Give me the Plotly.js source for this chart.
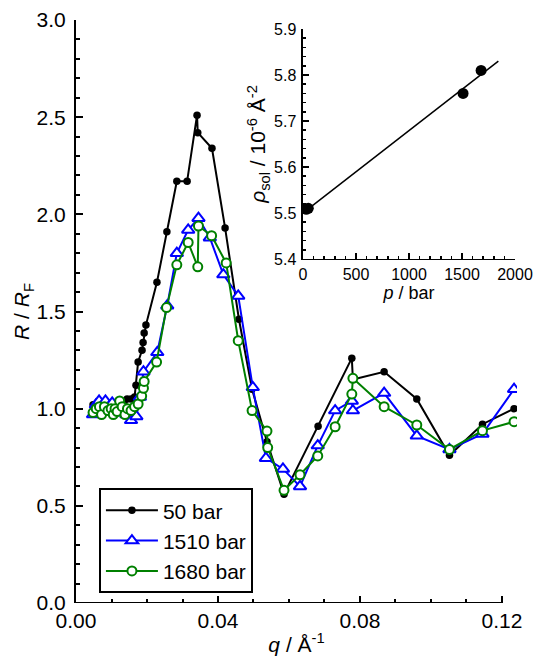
<!DOCTYPE html>
<html>
<head>
<meta charset="utf-8">
<script src="https://cdn.plot.ly/plotly-3.0.1.min.js"></script>
<style>html,body{margin:0;padding:0;background:#fff}#chart{width:536px;height:658px}</style>
</head>
<body>
<div id="chart"></div>
<script>
// Main panel: R/RF vs q
var q50 = [0.0048,0.0060,0.0072,0.0085,0.0098,0.0110,0.0122,0.0135,0.0144,0.0155,0.0165,0.0169,0.0175,0.0186,0.0189,0.0192,0.0197,0.0228,0.0256,0.0284,0.0313,0.0341,0.0343,0.0383,0.0420,0.0459,0.0496,0.0538,0.0586,0.0682,0.0777,0.0780,0.0868,0.0960,0.1052,0.1145,0.1234];
var r50 = [1.02,1.00,1.03,1.01,1.02,1.01,1.03,1.03,1.05,1.05,1.06,1.12,1.24,1.30,1.34,1.39,1.43,1.65,1.91,2.17,2.17,2.51,2.42,2.34,1.93,1.46,1.10,0.83,0.56,0.91,1.26,1.15,1.19,1.05,0.76,0.92,1.00];

var q1510 = [0.0048,0.0056,0.0065,0.0075,0.0083,0.0093,0.0102,0.0112,0.0122,0.0132,0.0142,0.0155,0.0170,0.0180,0.0190,0.0229,0.0257,0.0284,0.0316,0.0345,0.0377,0.0415,0.0457,0.0498,0.0535,0.0583,0.0631,0.0681,0.0730,0.0777,0.0780,0.0868,0.0960,0.1052,0.1145,0.1234];
var r1510 = [0.97,1.02,1.04,1.00,1.04,1.01,1.03,0.99,1.02,1.00,0.97,0.94,0.96,1.06,1.19,1.29,1.53,1.80,1.92,1.98,1.88,1.69,1.58,1.11,0.745,0.69,0.60,0.81,0.99,1.04,0.99,1.08,0.86,0.79,0.87,1.10];

var q1680 = [0.0048,0.0057,0.0066,0.0072,0.0080,0.0090,0.0099,0.0105,0.0110,0.0116,0.0123,0.0130,0.0138,0.0145,0.0155,0.0165,0.0175,0.0185,0.0190,0.0192,0.0227,0.0255,0.0284,0.0316,0.0343,0.0345,0.0382,0.0423,0.0457,0.0496,0.0538,0.0540,0.0586,0.0631,0.0681,0.0730,0.0777,0.0780,0.0868,0.0960,0.1052,0.1145,0.1234];
var r1680 = [0.98,1.00,1.01,0.97,1.01,0.99,1.00,0.97,1.00,0.985,1.04,1.01,0.97,1.00,0.99,1.01,1.024,1.065,1.105,1.14,1.24,1.52,1.74,1.855,1.73,1.94,1.89,1.75,1.35,0.99,0.885,0.80,0.58,0.66,0.757,0.907,1.075,1.156,1.01,0.916,0.79,0.887,0.933];

var seriesNames = ['50 bar','1510 bar','1680 bar'];

// Inset: rho_sol vs p
var pBar = [30, 50, 1510, 1680];
var rhoSol = [5.508, 5.51, 5.76, 5.81];
var fitP = [44, 1843];
var fitRho = [5.508, 5.830];

var FONT = 'Arial';

var traces = [
  {x:q50, y:r50, name:seriesNames[0], mode:'lines+markers', xaxis:'x', yaxis:'y',
   line:{color:'#000000', width:2}, marker:{symbol:'circle', size:7.5, color:'#000000'}},
  {x:q1510, y:r1510, name:seriesNames[1], mode:'lines+markers', xaxis:'x', yaxis:'y',
   line:{color:'#0000ff', width:2}, marker:{symbol:'triangle-up', size:11, color:'#ffffff', line:{color:'#0000ff', width:2}}},
  {x:q1680, y:r1680, name:seriesNames[2], mode:'lines+markers', xaxis:'x', yaxis:'y',
   line:{color:'#008000', width:2}, marker:{symbol:'circle', size:9, color:'#ffffff', line:{color:'#008000', width:2}}},
  {x:fitP, y:fitRho, mode:'lines', xaxis:'x2', yaxis:'y2', showlegend:false,
   line:{color:'#000000', width:1.5}},
  {x:pBar, y:rhoSol, mode:'markers', xaxis:'x2', yaxis:'y2', showlegend:false,
   marker:{symbol:'circle', size:11, color:'#000000'}}
];

var layout = {
  width:536, height:658,
  margin:{l:76, r:19, t:20, b:55},
  paper_bgcolor:'#ffffff', plot_bgcolor:'rgba(0,0,0,0)',
  font:{family:FONT, size:20, color:'#000000'},
  showlegend:true,
  legend:{x:0.052, y:0.197, xanchor:'left', yanchor:'top', bgcolor:'#ffffff',
          bordercolor:'#000000', borderwidth:2, font:{family:FONT, size:21, color:'#000'},
          tracegroupgap:0, itemwidth:52},
  xaxis:{domain:[0,1], range:[0, 0.12423], showline:false, zeroline:false, showgrid:false,
         ticks:'inside', ticklen:7, tickwidth:2, tickcolor:'#000', tick0:0, dtick:0.04, tickformat:'.2f',
         minor:{ticks:'inside', ticklen:4, tickwidth:2, tickcolor:'#000', dtick:0.01, showgrid:false},
         tickfont:{family:FONT, size:21}, anchor:'y', ticklabelstandoff:3,
         title:{text:'<i>q</i> / Å<sup>-1</sup>', font:{family:FONT, size:21}, standoff:6}},
  yaxis:{domain:[0,1], range:[0, 3.0], showline:true, linecolor:'#000', linewidth:2, zeroline:false, showgrid:false,
         ticks:'inside', ticklen:7, tickwidth:2, tickcolor:'#000', tick0:0, dtick:0.5, tickformat:'.1f',
         minor:{ticks:'inside', ticklen:4, tickwidth:2, tickcolor:'#000', dtick:0.1, showgrid:false},
         tickfont:{family:FONT, size:21}, anchor:'x', ticklabelstandoff:4,
         title:{text:'<i>R</i> / <i>R</i><sub>F</sub>', font:{family:FONT, size:21}, standoff:1}},
  xaxis2:{domain:[0.5147, 0.9955], range:[0, 2000], anchor:'y2', showline:true, linecolor:'#000', linewidth:1.5,
          zeroline:false, showgrid:false, ticks:'inside', ticklen:6, tickwidth:1.5, tickcolor:'#000',
          tick0:0, dtick:500, tickformat:'d',
          minor:{ticks:'inside', ticklen:3, tickwidth:1.5, tickcolor:'#000', dtick:100, showgrid:false},
          tickfont:{family:FONT, size:16},
          title:{text:'<i>p</i> / bar', font:{family:FONT, size:18}, standoff:4}},
  yaxis2:{domain:[0.5901, 0.9846], range:[5.4, 5.9], anchor:'x2', showline:true, linecolor:'#000', linewidth:1.5,
          zeroline:false, showgrid:false, ticks:'inside', ticklen:6, tickwidth:1.5, tickcolor:'#000',
          tick0:5.4, dtick:0.1, tickformat:'.1f',
          minor:{ticks:'inside', ticklen:3, tickwidth:1.5, tickcolor:'#000', dtick:0.02, showgrid:false},
          tickfont:{family:FONT, size:16}, ticklabelstandoff:2,
          title:{text:'<i>ρ</i><sub>sol</sub> / 10<sup>-6</sup> Å<sup>-2</sup>', font:{family:FONT, size:21}, standoff:2}},
  shapes:[
    {type:'line', xref:'x', yref:'y', x0:0, x1:0.12, y0:0, y1:0, line:{color:'#000', width:2}, layer:'above'}
  ]
};

Plotly.newPlot('chart', traces, layout, {displayModeBar:false, staticPlot:true});
</script>
</body>
</html>
